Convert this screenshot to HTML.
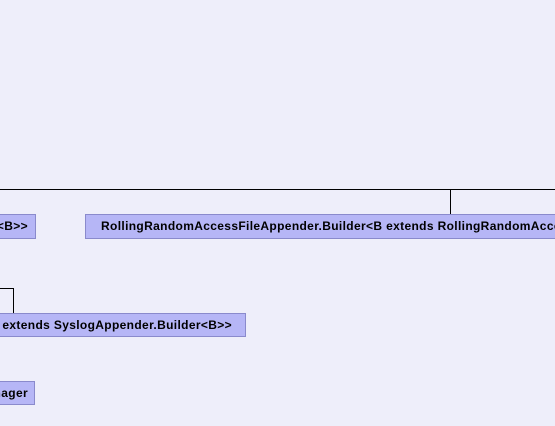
<!DOCTYPE html>
<html><head><style>
html,body{margin:0;width:555px;height:426px;overflow:hidden;}
body{background:#eeeefa;position:relative;font-family:"Liberation Sans",sans-serif;}
.b{position:absolute;background:#b6b6f6;border:1px solid #8a8acc;box-sizing:border-box;font-weight:bold;font-size:12px;letter-spacing:0.35px;color:#000;white-space:nowrap;line-height:22px;overflow:hidden;}
.r{text-align:right;border-left:none;}
.l{position:absolute;background:#000;}
</style></head><body>
<div class="l" style="left:0;top:189px;width:555px;height:1px"></div>
<div class="l" style="left:450px;top:189px;width:1px;height:25px"></div>
<div class="l" style="left:0;top:288px;width:13px;height:1px"></div>
<div class="l" style="left:13px;top:288px;width:1px;height:25px"></div>
<div class="b r" style="left:0;top:214px;width:36px;height:25px;padding-right:7px;direction:rtl"><bdi>Builder&lt;B&gt;&gt;</bdi></div>
<div class="b" style="left:85px;top:214px;width:470px;height:25px;padding-left:15px;border-right:none">RollingRandomAccessFileAppender.Builder&lt;B extends RollingRandomAccessFileAppender.Builder&lt;B&gt;&gt;</div>
<div class="b r" style="left:0;top:313px;width:246px;height:24px;padding-right:13px;direction:rtl"><bdi>B extends SyslogAppender.Builder&lt;B&gt;&gt;</bdi></div>
<div class="b r" style="left:0;top:381px;width:35px;height:24px;padding-right:6px;direction:rtl"><bdi>Manager</bdi></div>
</body></html>
